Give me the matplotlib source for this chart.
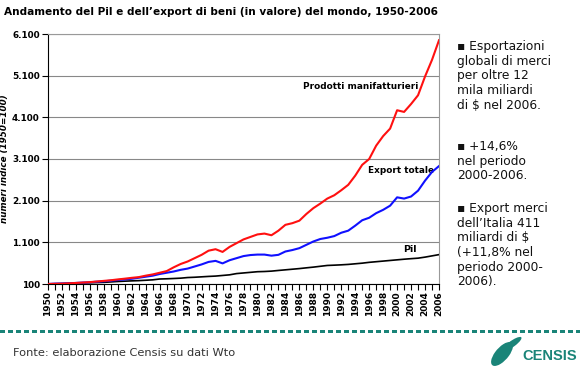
import matplotlib
matplotlib.use("Agg")
import matplotlib.pyplot as plt
from matplotlib.ticker import FixedLocator, MultipleLocator, FuncFormatter
from matplotlib.patches import Ellipse, Rectangle

years = list(range(1950, 2007))
manifatturieri = [100, 105, 108, 116, 125, 135, 145, 160, 175, 190,
                  210, 228, 248, 265, 300, 330, 370, 410, 500, 580,
                  640, 720, 800, 900, 935, 870, 990, 1080, 1170, 1230,
                  1290, 1310, 1270, 1380, 1520, 1560, 1620, 1780, 1920, 2030,
                  2150, 2230, 2350, 2480, 2700, 2960, 3100, 3420, 3650, 3830,
                  4270, 4230, 4420, 4630, 5080, 5480, 5950]
export_totale = [100, 110, 112, 118, 125, 135, 142, 155, 165, 180,
                 195, 210, 225, 250, 275, 300, 340, 370, 400, 440,
                 470, 520, 570, 630, 655, 595, 670, 720, 770, 795,
                 806, 806, 780, 800, 880, 915, 960, 1040, 1120, 1180,
                 1210, 1250, 1330, 1380, 1500, 1630, 1690, 1800, 1880, 1980,
                 2180, 2150, 2200, 2340, 2580, 2790, 2930]
pil = [100, 104, 110, 115, 120, 125, 130, 135, 140, 150,
       160, 168, 175, 181, 190, 200, 220, 225, 232, 240,
       255, 262, 272, 282, 290, 305, 320, 350, 365, 380,
       395, 400, 409, 425, 440, 455, 470, 488, 505, 525,
       545, 552, 560, 570, 585, 600, 620, 635, 650, 665,
       680, 695, 708, 720, 745, 775, 805]
y_ticks = [100, 1100, 2100, 3100, 4100, 5100, 6100]
x_ticks = list(range(1950, 2007, 2))

title = "Andamento del Pil e dell\u2019export di beni (in valore) del mondo, 1950-2006"
note1 = "\u25aa Esportazioni\nglobali di merci\nper oltre 12\nmila miliardi\ndi $ nel 2006."
note2 = "\u25aa +14,6%\nnel periodo\n2000-2006."
note3 = "\u25aa Export merci\ndell\u2019Italia 411\nmiliardi di $\n(+11,8% nel\nperiodo 2000-\n2006)."
source = "Fonte: elaborazione Censis su dati Wto"

W, H = 580, 373
fig = plt.figure(figsize=(W / 100, H / 100), dpi=100)
ax = fig.add_axes([48 / W, 1 - 284 / H, (439 - 48) / W, (284 - 34) / H])

ax.plot(years, pil, color="black", lw=1.2, zorder=3)
ax.plot(years, export_totale, color="#1010ff", lw=1.5, zorder=4)
ax.plot(years, manifatturieri, color="#ff1010", lw=1.5, zorder=5)

ax.set_xlim(1950, 2006)
ax.set_ylim(100, 6100)
ax.yaxis.set_major_locator(FixedLocator(y_ticks))
ax.yaxis.set_major_formatter(FuncFormatter(lambda v, p: f"{int(v):,}".replace(",", ".")))
ax.xaxis.set_major_locator(FixedLocator(x_ticks))
ax.xaxis.set_minor_locator(MultipleLocator(1))
ax.grid(axis="y", color="#888888", lw=0.8)
ax.set_axisbelow(True)

for s in ["top", "right"]:
    ax.spines[s].set_color("#999999")
    ax.spines[s].set_linewidth(0.8)
ax.spines["left"].set_color("black")
ax.spines["bottom"].set_color("black")

ax.tick_params(axis="y", labelsize=6.4, length=4, width=0.8, pad=2)
ax.tick_params(axis="x", which="both", length=4, width=0.8, labelsize=6.5, pad=1, labelrotation=90)
for lab in ax.get_yticklabels() + ax.get_xticklabels():
    lab.set_fontweight("bold")

ax.set_ylabel("numeri indice (1950=100)", fontsize=6.3, fontstyle="italic", fontweight="bold")
ax.yaxis.set_label_coords(-0.1, 0.5)

ax.text(1986.5, 4830, "Prodotti manifatturieri", fontsize=6.4, fontweight="bold", va="center", ha="left")
ax.text(1995.8, 2830, "Export totale", fontsize=6.4, fontweight="bold", va="center", ha="left")
ax.text(2000.8, 930, "Pil", fontsize=6.8, fontweight="bold", va="center", ha="left")

fig.text(4 / W, 1 - 12 / H, title, fontsize=7.6, fontweight="bold", va="center", ha="left")

fam = ["DejaVu Sans"]
kw = dict(fontsize=8.8, family=fam, va="top", ha="left", linespacing=1.17, color="#111111")
fig.text(457 / W, 1 - 40 / H, note1, **kw)
fig.text(457 / W, 1 - 140 / H, note2, **kw)
fig.text(457 / W, 1 - 202 / H, note3, **kw)

teal = "#1a8478"
for i in range(0, W, 8):
    fig.patches.append(Rectangle((i / W, 1 - 333 / H), 4.5 / W, 3 / H,
                                 transform=fig.transFigure, color=teal, lw=0))

fig.text(13 / W, 1 - 353 / H, source, fontsize=8.2, family=fam, color="#333333", va="center", ha="left")

fig.patches.append(Ellipse((502 / W, 1 - 354 / H), 15 / W, 26 / H, angle=-25,
                           transform=fig.transFigure, color=teal, lw=0))
fig.patches.append(Ellipse((512 / W, 1 - 344 / H), 8 / W, 18 / H, angle=-40,
                           transform=fig.transFigure, color=teal, lw=0))
fig.text(577 / W, 1 - 356 / H, "CENSIS", fontsize=10.5, fontweight="bold", family=["Liberation Sans", "DejaVu Sans"],
         color=teal, va="center", ha="right")

fig.savefig("out.png", dpi=100)
